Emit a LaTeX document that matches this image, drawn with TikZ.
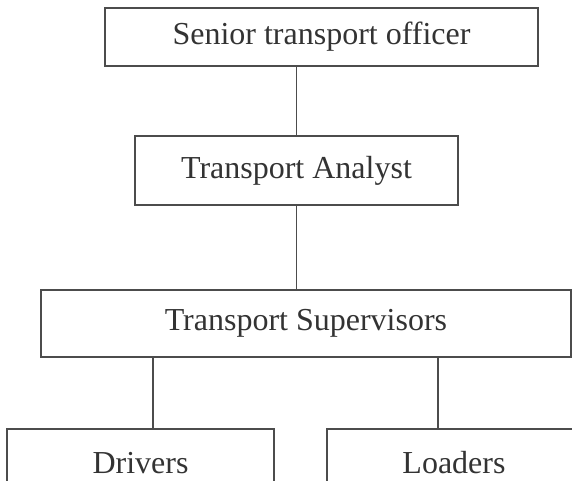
\documentclass[tikz,border=0pt]{standalone}
\usepackage{fontspec}
\setmainfont{Liberation Serif}
\usetikzlibrary{positioning}

\begin{document}
\begin{tikzpicture}[x=1pt,y=-1pt,font=\fontsize{32}{38}\selectfont]
        \tikzstyle{post}=[rectangle,draw=black!70,line width=1.1pt,text=black!80,inner sep=0pt,minimum height=68pt]
        \tikzstyle{link}=[draw=black!70,line width=1.1pt]
        \useasboundingbox (0,0) rectangle (572,481);
        \clip (0,0) rectangle (572,481);

        \node [post, minimum width=433pt, minimum height=58pt] (senior) at (321.5,37) {Senior transport officer}; %top
        \node [post, minimum width=323pt, minimum height=69pt] (analyst) at (296.5,170.5) {Transport Analyst};
        \node [post, minimum width=530pt, minimum height=67pt] (supervisors) at (306,323.5) {Transport Supervisors};
        \node [post, minimum width=267pt] (drivers) at (140.5,463) {Drivers}; %cut off at the bottom
        \node [post, minimum width=254pt] (loaders) at (454,463) {Loaders};

        \draw [link] (senior.south -| analyst) -- (analyst.north);
        \draw [link] (analyst.south) -- (analyst.south |- supervisors.north);
        \draw [link] ([xshift=12.5pt]drivers.north) -- ([xshift=12.5pt]drivers.north |- supervisors.south);
        \draw [link] ([xshift=-16pt]loaders.north) -- ([xshift=-16pt]loaders.north |- supervisors.south);
\end{tikzpicture}
\end{document}
